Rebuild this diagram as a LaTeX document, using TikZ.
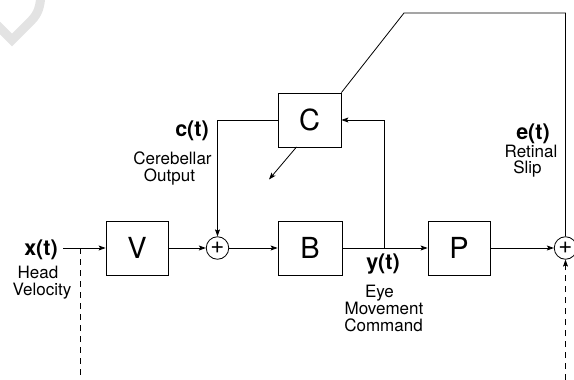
\documentclass[tikz,border=0pt]{standalone}
\usepackage{fontspec}
\setmainfont{TeX Gyre Heros}
\usetikzlibrary{arrows.meta}
\begin{document}
\begin{tikzpicture}[x=1pt,y=-1pt,
  line width=0.8pt,
  blockbox/.style={draw, minimum width=62pt, minimum height=54pt, inner sep=0pt, font=\fontsize{29}{30}\selectfont},
  sumnode/.style={draw, circle, minimum size=22.5pt, inner sep=0pt, font=\fontsize{24}{24}\selectfont},
  sig/.style={font=\bfseries\fontsize{21.5}{22}\selectfont, anchor=base, inner sep=0pt},
  lbl/.style={font=\fontsize{17}{18}\selectfont, anchor=base, inner sep=0pt},
  arr/.style={-{Stealth[length=7pt,width=5pt,inset=1.5pt]}},
  dashline/.style={dash pattern=on 6pt off 5pt},
  wmark/.style={draw=black!11, line width=9pt}
]
\useasboundingbox (0,0) rectangle (574,380);
% faint watermark
\draw[wmark] (-3,25) -- (12,40) -- (31,21) to[out=45,in=-95] (41,-5);

% blocks
\node[blockbox] (V) at (137,248) {V};
\node[sumnode] (s1) at (217.5,248) {+};
\node[blockbox, minimum width=64pt] (B) at (310,248) {B};
\node[blockbox] (P) at (459,248) {P};
\node[sumnode] (s2) at (565.5,248) {+};
\node[blockbox, minimum width=63pt] (C) at (309.5,120) {C};

% helper coordinates
\coordinate (xin) at (63,248);
\coordinate (yj) at (384,248);
\coordinate (topc) at (404,13);
\coordinate (dl) at (80,248);
\coordinate (dlend) at (80,380);
\coordinate (dr) at (565.5,380);
\coordinate (cstart) at (296.5,147);
\coordinate (cout) at (269,179.5);

% connectors
\draw[arr] (xin) -- (V);
\draw[arr] (V) -- (s1);
\draw[arr] (s1) -- (B);
\draw[arr] (B) -- (P);
\draw[arr] (P) -- (s2);
\draw[arr] (C.west) -| (s1.north);
\draw[arr] (yj) |- (C.east);
\draw (C.north east) -- (topc) -| (s2.north);
\draw[arr] (cstart) -- (cout);
\draw[dashline] (dl) -- (dlend);
\draw[arr, dashline] (dr) -- (s2.south);

% labels
\node[sig] (xt) at (41,255) {x(t)};
\node[lbl] (head) at (38,278) {Head};
\node[lbl] (vel) at (42,295) {Velocity};

\node[sig] (ct) at (192,136) {c(t)};
\node[lbl] (cereb) at (172.5,164) {Cerebellar};
\node[lbl] (outp) at (169.5,181) {Output};

\node[sig] (et) at (533,139) {e(t)};
\node[lbl] (ret) at (531,157) {Retinal};
\node[lbl] (slip) at (527.5,173) {Slip};

\node[sig] (yt) at (383,269) {y(t)};
\node[lbl] (eye) at (379.5,297) {Eye};
\node[lbl] (mov) at (384,314) {Movement};
\node[lbl] (cmd) at (383.5,331) {Command};
\end{tikzpicture}
\end{document}
